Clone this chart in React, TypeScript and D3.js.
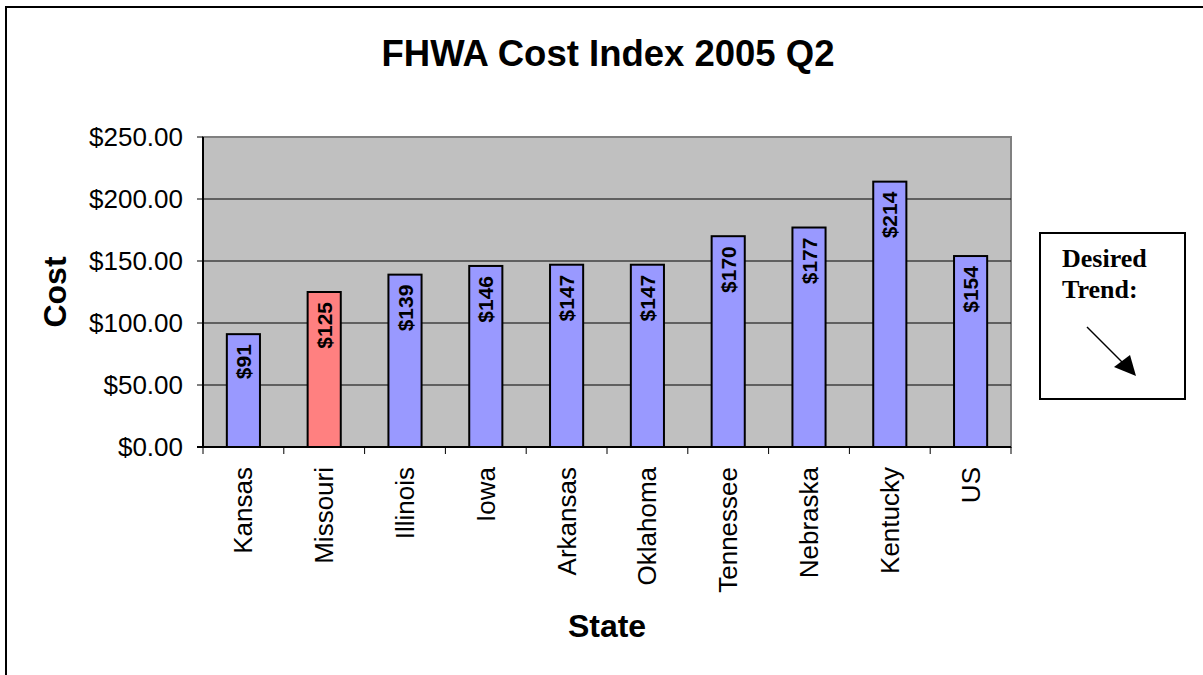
import * as d3 from 'd3'

const states = ['Kansas', 'Missouri', 'Illinois', 'Iowa', 'Arkansas', 'Oklahoma', 'Tennessee', 'Nebraska', 'Kentucky', 'US']
const costs = [91, 125, 139, 146, 147, 147, 170, 177, 214, 154]
const highlighted = ['Missouri']
const yTicks = [0, 50, 100, 150, 200, 250]

const W = 1203
const H = 675
const plot = { left: 203, right: 1011, top: 137, bottom: 447 }

const arial = '"Liberation Sans", Arial, sans-serif'
const times = '"Liberation Serif", "Times New Roman", serif'

export default function App() {
  const x = d3.scaleBand<string>()
    .domain(states)
    .range([plot.left, plot.right])
    .paddingInner(0.59)
    .paddingOuter(0.295)
  const y = d3.scaleLinear().domain([0, 250]).range([plot.bottom, plot.top])
  const band = (plot.right - plot.left) / states.length

  return (
    <div style={{ position: 'absolute', left: 0, top: 0 }}>
      <svg width={W} height={H} style={{ display: 'block', background: '#fff' }}>
        {/* outer chart border, cut off at right and bottom */}
        <path d={`M6,${H} V7 H${W}`} fill="none" stroke="#000" strokeWidth={2} />

        <text x={608} y={66} textAnchor="middle" fontFamily={arial} fontWeight="bold" fontSize={36.5}>
          FHWA Cost Index 2005 Q2
        </text>

        {/* plot area */}
        <rect x={plot.left} y={plot.top} width={plot.right - plot.left} height={plot.bottom - plot.top}
          fill="#C0C0C0" stroke="#808080" strokeWidth={2} />
        {yTicks.filter((t) => t > 0 && t < 250).map((t) => (
          <line key={t} x1={plot.left} x2={plot.right} y1={y(t)} y2={y(t)} stroke="#000" strokeWidth={1} />
        ))}

        {/* bars */}
        {states.map((s, i) => (
          <g key={s}>
            <rect x={x(s)} y={y(costs[i])} width={x.bandwidth()} height={y(0) - y(costs[i])}
              fill={highlighted.includes(s) ? '#FF8080' : '#9999FF'} stroke="#000" strokeWidth={2} />
            <text transform={`translate(${(x(s) ?? 0) + x.bandwidth() / 2},${y(costs[i]) + 10}) rotate(-90)`}
              textAnchor="end" dominantBaseline="central" fontFamily={arial} fontWeight="bold" fontSize={21}>
              {'$' + costs[i]}
            </text>
          </g>
        ))}

        {/* axes */}
        <line x1={plot.left} x2={plot.left} y1={plot.top} y2={plot.bottom} stroke="#000" strokeWidth={2} />
        <line x1={plot.left - 6} x2={plot.right} y1={plot.bottom} y2={plot.bottom} stroke="#000" strokeWidth={2} />
        {yTicks.map((t) => (
          <g key={t}>
            <line x1={plot.left - 6} x2={plot.left} y1={y(t)} y2={y(t)} stroke="#000" strokeWidth={1} />
            <text x={183} y={y(t)} textAnchor="end" dominantBaseline="central" fontFamily={arial} fontSize={26}>
              {'$' + t.toFixed(2)}
            </text>
          </g>
        ))}
        {d3.range(states.length + 1).map((i) => (
          <line key={i} x1={plot.left + i * band} x2={plot.left + i * band} y1={plot.bottom} y2={plot.bottom + 7}
            stroke="#000" strokeWidth={1} />
        ))}
        {states.map((s) => (
          <text key={s} transform={`translate(${(x(s) ?? 0) + x.bandwidth() / 2},${plot.bottom + 20}) rotate(-90)`}
            textAnchor="end" dominantBaseline="central" fontFamily={arial} fontSize={26}>
            {s}
          </text>
        ))}

        <text transform="translate(55,292) rotate(-90)" textAnchor="middle" dominantBaseline="central"
          fontFamily={arial} fontWeight="bold" fontSize={32}>
          Cost
        </text>
        <text x={607} y={637} textAnchor="middle" fontFamily={arial} fontWeight="bold" fontSize={32}>
          State
        </text>

        {/* desired trend box */}
        <rect x={1040} y={233} width={145} height={166} fill="#fff" stroke="#000" strokeWidth={2} />
        <text x={1062} y={267} fontFamily={times} fontWeight="bold" fontSize={26}>Desired</text>
        <text x={1062} y={298} fontFamily={times} fontWeight="bold" fontSize={26}>Trend:</text>
        <line x1={1087} y1={327} x2={1124} y2={364} stroke="#000" strokeWidth={1.5} />
        <path d="M1136,376 L1114,367 L1130,355 Z" fill="#000" />
      </svg>
    </div>
  )
}
